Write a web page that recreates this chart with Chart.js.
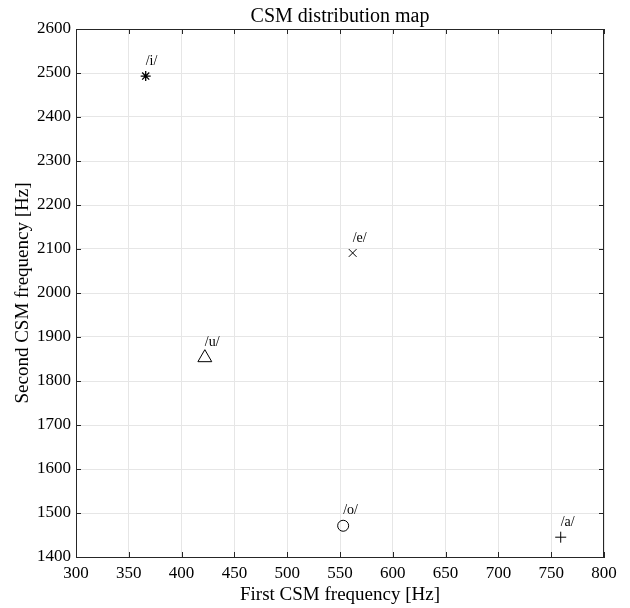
<!DOCTYPE html>
<html>
<head>
<meta charset="utf-8">
<script src="https://cdn.jsdelivr.net/npm/chart.js@4"></script>
<style>
  html, body { margin: 0; padding: 0; background: #fff; }
  #wrap { width: 630px; height: 608px; }
</style>
</head>
<body>
<div id="wrap"><canvas id="csmChart" width="630" height="608"></canvas></div>
<script>
// ── Data ──
const vowels   = ['/i/', '/e/', '/u/', '/o/', '/a/'];
const firstCSM = [366, 562, 422, 553, 759];
const secondCSM = [2493, 2091, 1853, 1471, 1445];
const markers  = ['star', 'crossRot', 'triangle', 'circle', 'cross'];
const markerSize = [5, 5.5, 8, 5.5, 5.5];

const xTicks = [300, 350, 400, 450, 500, 550, 600, 650, 700, 750, 800];
const yTicks = [1400, 1500, 1600, 1700, 1800, 1900, 2000, 2100, 2200, 2300, 2400, 2500, 2600];

const FONT = "'Liberation Serif', 'Times New Roman', serif";
const AXIS = '#262626';
const GRID = '#e6e6e6';

// ── Box, inner ticks and vowel labels ──
const boxPlugin = {
  id: 'matlabBox',
  afterDatasetsDraw(chart) {
    const { ctx, chartArea: a, scales: { x, y } } = chart;
    ctx.save();
    ctx.strokeStyle = AXIS;
    ctx.lineWidth = 1;
    ctx.strokeRect(a.left + 0.5, a.top + 0.5, a.right - a.left - 1, a.bottom - a.top);
    const tl = 5;
    ctx.beginPath();
    xTicks.forEach(v => {
      const px = Math.round(x.getPixelForValue(v)) + 0.5;
      ctx.moveTo(px, a.bottom); ctx.lineTo(px, a.bottom - tl);
      ctx.moveTo(px, a.top); ctx.lineTo(px, a.top + tl);
    });
    yTicks.forEach(v => {
      const py = Math.round(y.getPixelForValue(v)) + 0.5;
      ctx.moveTo(a.left, py); ctx.lineTo(a.left + tl, py);
      ctx.moveTo(a.right, py); ctx.lineTo(a.right - tl, py);
    });
    ctx.stroke();

    // vowel labels, sitting just above-right of each marker
    ctx.fillStyle = '#000';
    ctx.font = '14px ' + FONT;
    ctx.textAlign = 'left';
    ctx.textBaseline = 'middle';
    vowels.forEach((v, i) => {
      const px = x.getPixelForValue(firstCSM[i]);
      const py = y.getPixelForValue(secondCSM[i]);
      ctx.fillText(v, px, py - 15);
    });
    ctx.restore();
  }
};

new Chart(document.getElementById('csmChart'), {
  type: 'scatter',
  data: {
    datasets: [{
      data: firstCSM.map((f, i) => ({ x: f, y: secondCSM[i] })),
      pointStyle: markers,
      pointRadius: markerSize,
      pointHoverRadius: markerSize,
      borderColor: '#000',
      backgroundColor: 'rgba(0,0,0,0)',
      borderWidth: [1.3, 1, 1, 1, 1],
    }]
  },
  options: {
    responsive: false,
    animation: false,
    layout: { padding: { left: 0, right: 26, top: 0, bottom: 0 } },
    plugins: {
      legend: { display: false },
      tooltip: { enabled: false },
      title: {
        display: true,
        text: 'CSM distribution map',
        fullSize: false,
        color: '#000',
        font: { family: FONT, size: 20, weight: 'normal', lineHeight: 1.2 },
        padding: { top: 5, bottom: 0 }
      }
    },
    scales: {
      x: {
        type: 'linear',
        min: 300, max: 800,
        afterFit: s => { s.height = 51; },
        afterBuildTicks: s => { s.ticks = xTicks.map(v => ({ value: v })); },
        grid: { color: GRID, drawTicks: false },
        border: { color: AXIS },
        ticks: { color: '#000', padding: 6, maxRotation: 0, callback: v => String(v), font: { family: FONT, size: 17 } },
        title: {
          display: true,
          text: 'First CSM frequency [Hz]',
          color: '#000',
          font: { family: FONT, size: 19 },
          padding: { top: 0, bottom: 2 }
        }
      },
      y: {
        type: 'linear',
        min: 1400, max: 2600,
        afterFit: s => { s.width = 76; },
        afterBuildTicks: s => { s.ticks = yTicks.map(v => ({ value: v })); },
        grid: { color: GRID, drawTicks: false },
        border: { color: AXIS },
        ticks: { color: '#000', padding: 5, callback: v => String(v), font: { family: FONT, size: 17 } },
        title: {
          display: true,
          text: 'Second CSM frequency [Hz]',
          color: '#000',
          font: { family: FONT, size: 19 },
          padding: { top: 12, bottom: 0 }
        }
      }
    }
  },
  plugins: [boxPlugin]
});
</script>
</body>
</html>
